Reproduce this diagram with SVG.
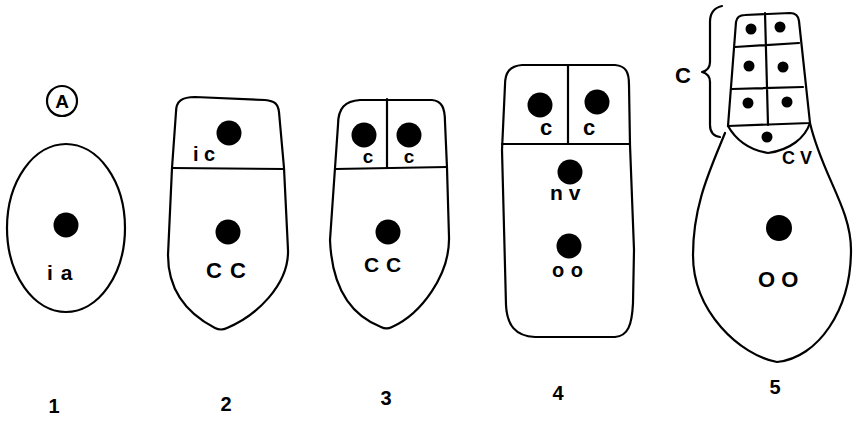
<svg xmlns="http://www.w3.org/2000/svg" width="853" height="421" viewBox="0 0 853 421">
<style>
.o{fill:none;stroke:#000;stroke-width:2.2;stroke-linejoin:round;stroke-linecap:round}
.n{fill:#000}
.t{font-family:"Liberation Sans",Arial,sans-serif;font-weight:bold;fill:#000}
</style>
<rect width="853" height="421" fill="#fff"/>
<g id="label-A">
<circle class="o" cx="62" cy="101" r="15"/>
<text class="t" x="62" y="108" font-size="19" text-anchor="middle">A</text>
</g>
<g id="cell1">
<ellipse class="o" cx="66" cy="228" rx="59" ry="84"/>
<circle class="n" cx="66" cy="225" r="12.5"/>
<text class="t" x="47" y="280" font-size="21" word-spacing="2">i a</text>
<text class="t" x="54" y="413" font-size="20" text-anchor="middle">1</text>
</g>
<g id="cell2">
<path class="o" d="M176,112 C176,101 182,97 195,97 L265,100 C275,101 278,104 279,112 L284,168 L288,250 C289,285 256,316 227,328 C223,330 219,330 215,328 C188,314 168,292 168,255 L172,168 Z"/>
<path class="o" d="M172,168 L284,169"/>
<circle class="n" cx="229" cy="133" r="12.5"/>
<circle class="n" cx="228" cy="232" r="12.5"/>
<text class="t" x="193" y="161" font-size="20">i c</text>
<text class="t" x="206" y="278" font-size="22" word-spacing="2">C C</text>
<text class="t" x="226" y="411" font-size="20" text-anchor="middle">2</text>
</g>
<g id="cell3">
<path class="o" d="M338,125 C338,108 345,101 360,100 L432,100 C442,101 445,108 445,122 L447,168 L449,237 C450,275 421,314 392,327 C388,329 385,329 381,327 C353,316 332,290 330,240 L335,168 Z"/>
<path class="o" d="M335,169 L447,167 M387,99 L387,168"/>
<circle class="n" cx="364" cy="135" r="12.5"/>
<circle class="n" cx="409" cy="135" r="12.5"/>
<circle class="n" cx="388" cy="232" r="12.5"/>
<text class="t" x="368" y="163" font-size="19" text-anchor="middle">c</text>
<text class="t" x="409" y="163" font-size="19" text-anchor="middle">c</text>
<text class="t" x="364" y="272" font-size="21" word-spacing="1">C C</text>
<text class="t" x="386" y="405" font-size="20" text-anchor="middle">3</text>
</g>
<g id="cell4">
<path class="o" d="M505,85 C505,72 510,66 522,65 L615,65 C626,66 629,72 629,85 L630,145 L634,250 L633,303 C632,325 628,336 615,337 L535,337 C515,336 507,325 506,305 L502,150 Z"/>
<path class="o" d="M502,144 L630,144 M568,65 L568,144"/>
<circle class="n" cx="540" cy="105" r="12.5"/>
<circle class="n" cx="597" cy="102" r="12.5"/>
<circle class="n" cx="570" cy="172" r="12.5"/>
<circle class="n" cx="569" cy="246" r="12.5"/>
<text class="t" x="546" y="135" font-size="22" text-anchor="middle">c</text>
<text class="t" x="589" y="135" font-size="22" text-anchor="middle">c</text>
<text class="t" x="550" y="200" font-size="21">n v</text>
<text class="t" x="552" y="277" font-size="20" word-spacing="1">o o</text>
<text class="t" x="558" y="400" font-size="20" text-anchor="middle">4</text>
</g>
<g id="cell5">
<path class="o" d="M725,133 C710,170 693,205 693,255 C693,312 740,355 777,362 C818,358 851,310 851,250 C851,208 822,175 810,123"/>
<path class="o" d="M728,126 L736,22 Q737,15 745,15 L790,13 Q798,13 799,21 L810,123 Z"/>
<path class="o" d="M765,13 L768,125 M735,47 L799,43 M732,89 L803,87"/>
<path class="o" d="M728,126 C736,140 750,150 768,153 C790,150 805,138 810,123"/>
<circle class="n" cx="751" cy="29" r="5.5"/>
<circle class="n" cx="780" cy="27" r="5.5"/>
<circle class="n" cx="749" cy="66" r="5.5"/>
<circle class="n" cx="783" cy="67" r="5.5"/>
<circle class="n" cx="748" cy="103" r="5.5"/>
<circle class="n" cx="787" cy="102" r="5.5"/>
<circle class="n" cx="767" cy="137" r="5.5"/>
<circle class="n" cx="779" cy="228" r="13"/>
<path class="o" d="M722,6 C713,8 710,14 710,22 L710,62 C710,68 706,71 702,72 C706,73 710,76 710,82 L710,125 C710,132 713,136 720,137"/>
<text class="t" x="675" y="83" font-size="22">C</text>
<text class="t" x="782" y="164" font-size="18">C V</text>
<text class="t" x="758" y="287" font-size="22">O O</text>
<text class="t" x="775" y="394" font-size="20" text-anchor="middle">5</text>
</g>
</svg>
